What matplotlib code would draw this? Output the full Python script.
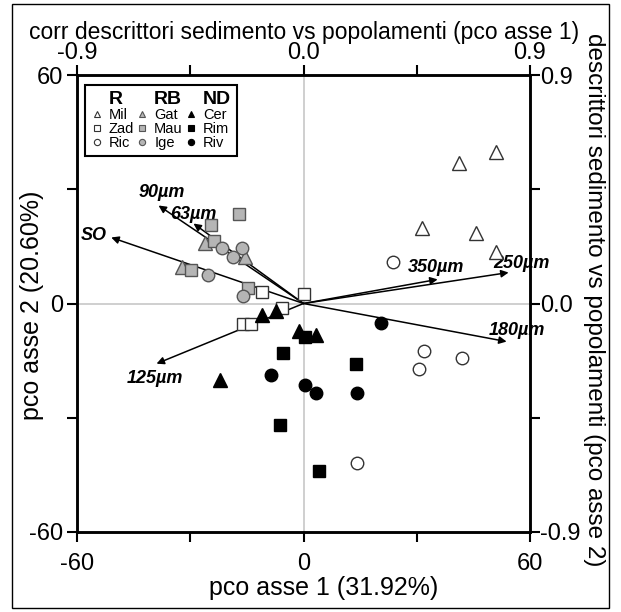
import matplotlib.pyplot as plt
from matplotlib.lines import Line2D
from matplotlib.patches import Rectangle
from matplotlib.ticker import FixedLocator, FormatStrFormatter

plt.rcParams["font.family"] = ["Liberation Sans", "DejaVu Sans"]
plt.rcParams["axes.unicode_minus"] = False

# pco scores (asse 1, asse 2) per site
# R
mil_x = [50.9, 41.1, 31.5, 45.6, 50.9]
mil_y = [39.9, 37.0, 19.7, 18.4, 13.4]
zad_x = [-10.9, 0.0, -5.6, -15.9, -14.0]
zad_y = [2.9, 2.4, -1.3, -5.5, -5.5]
ric_x = [23.6, 31.8, 42.1, 30.7, 14.3]
ric_y = [11.0, -12.6, -14.2, -17.1, -42.0]
# RB
gat_x = [-26.0, -15.6, -32.1]
gat_y = [15.8, 12.3, 9.5]
mau_x = [-17.0, -24.6, -23.8, -29.9, -14.6]
mau_y = [23.4, 20.5, 16.3, 8.7, 4.2]
ige_x = [-21.7, -16.2, -18.8, -25.2, -15.9]
ige_y = [14.7, 14.7, 12.3, 7.4, 2.1]
# ND
cer_x = [-11.1, -7.4, -1.3, 3.4, -22.0]
cer_y = [-2.9, -2.1, -7.1, -8.4, -20.0]
rim_x = [0.3, -5.3, 14.0, -6.1, 4.0]
rim_y = [-8.7, -12.9, -16.0, -32.0, -43.9]
riv_x = [20.4, -8.5, 0.5, 3.2, 14.3]
riv_y = [-5.0, -18.9, -21.5, -23.6, -23.4]

# correlations of sediment descriptors with pco axes
vec_names = ["90µm", "63µm", "SO", "125µm", "350µm", "250µm", "180µm"]
vec_x = [-0.576, -0.437, -0.764, -0.584, 0.533, 0.815, 0.807]
vec_y = [0.386, 0.315, 0.260, -0.237, 0.095, 0.122, -0.150]
# label offsets from arrow tip (pixels) and alignment
vec_off = [(-20, 13), (-23, 9), (-4, 2), (-2, -15), (-30, 12), (-15, 9), (-18, 11)]
vec_ha = ["left", "left", "right", "center", "left", "left", "left"]

W, H = 621, 612
fig = plt.figure(figsize=(W / 100, H / 100), dpi=100)
pos = [77 / W, 1 - 532 / H, (530 - 77) / W, (532 - 75) / H]

# correlation axes (top / right), drawn underneath
axc = fig.add_axes(pos)
axc.set_xlim(-0.9, 0.9)
axc.set_ylim(-0.9, 0.9)
axc.axhline(0, color="#cccccc", lw=1.3, zorder=0)
axc.axvline(0, color="#cccccc", lw=1.3, zorder=0)
axc.xaxis.tick_top()
axc.yaxis.tick_right()
axc.xaxis.set_major_locator(FixedLocator([-0.9, 0.0, 0.9]))
axc.yaxis.set_major_locator(FixedLocator([-0.9, 0.0, 0.9]))
axc.xaxis.set_minor_locator(FixedLocator([-0.45, 0.45]))
axc.yaxis.set_minor_locator(FixedLocator([-0.45, 0.45]))
axc.xaxis.set_major_formatter(FormatStrFormatter("%.1f"))
axc.yaxis.set_major_formatter(FormatStrFormatter("%.1f"))
axc.tick_params(which="both", direction="out", length=7, width=1.5, labelsize=17)
axc.tick_params(axis="x", pad=1)
axc.tick_params(axis="y", pad=0)
for sp in axc.spines.values():
    sp.set_linewidth(1.8)

for name, cx, cy, off, ha in zip(vec_names, vec_x, vec_y, vec_off, vec_ha):
    axc.annotate("", xy=(cx, cy), xytext=(0, 0),
                 arrowprops=dict(arrowstyle="-|>", lw=1.1, color="black",
                                 mutation_scale=11, shrinkA=0, shrinkB=0))
    axc.annotate(name, xy=(cx, cy), xytext=off, textcoords="offset pixels",
                 ha=ha, va="center", fontsize=13, fontweight="bold",
                 fontstyle="italic")

# score axes on top
ax = fig.add_axes(pos)
ax.patch.set_alpha(0)
ax.set_xlim(-60, 60)
ax.set_ylim(-60, 60)
ax.xaxis.set_major_locator(FixedLocator([-60, 0, 60]))
ax.yaxis.set_major_locator(FixedLocator([-60, 0, 60]))
ax.xaxis.set_minor_locator(FixedLocator([-30, 30]))
ax.yaxis.set_minor_locator(FixedLocator([-30, 30]))
ax.tick_params(which="both", direction="out", length=7, width=1.5, labelsize=17)
ax.tick_params(axis="x", pad=8)
ax.tick_params(axis="y", pad=3)
for sp in ax.spines.values():
    sp.set_linewidth(1.8)

white = dict(mfc="white", mec="#333333")
grey = dict(mfc="#b5b5b5", mec="#555555")
black = dict(mfc="black", mec="black")
groups = [
    (mil_x, mil_y, "^", white, "Mil"),
    (zad_x, zad_y, "s", white, "Zad"),
    (ric_x, ric_y, "o", white, "Ric"),
    (gat_x, gat_y, "^", grey, "Gat"),
    (mau_x, mau_y, "s", grey, "Mau"),
    (ige_x, ige_y, "o", grey, "Ige"),
    (cer_x, cer_y, "^", black, "Cer"),
    (rim_x, rim_y, "s", black, "Rim"),
    (riv_x, riv_y, "o", black, "Riv"),
]
handles, labels = [], []
for i, (gx, gy, mk, st, lab) in enumerate(groups):
    if i % 3 == 0:
        handles.append(Line2D([], [], ls="none", marker=None))
        labels.append(["R", "RB", "ND"][i // 3])
    ms = 10 if mk == "^" else 9
    ax.plot(gx, gy, ls="none", marker=mk, ms=ms, mew=1, **st)
    handles.append(Line2D([], [], ls="none", marker=mk, ms=4.5, mew=0.8, **st))
    labels.append(lab)

leg = ax.legend(handles, labels, ncol=3, loc="upper left",
                bbox_to_anchor=(8 / 453, 1 - 10 / 457), fontsize=10.5,
                frameon=True, fancybox=False, framealpha=1, edgecolor="black",
                handlelength=0.8, handletextpad=0.4, labelspacing=0.0,
                columnspacing=0.2, borderpad=0.4, borderaxespad=0)
leg.get_frame().set_linewidth(1.5)
for t in leg.get_texts():
    if t.get_text() in ("R", "RB", "ND"):
        t.set_fontweight("bold")
        t.set_fontsize(14)

fig.text(304 / W, 1 - 32 / H, "corr descrittori sedimento vs popolamenti (pco asse 1)",
         ha="center", va="center", fontsize=16.5)
fig.text(324 / W, 1 - 588 / H, "pco asse 1 (31.92%)", ha="center", va="center", fontsize=18)
fig.text(32 / W, 1 - 305 / H, "pco asse 2 (20.60%)", ha="center", va="center",
         rotation=90, fontsize=18)
fig.text(594 / W, 1 - 300 / H, "descrittori sedimento vs popolamenti (pco asse 2)",
         ha="center", va="center", rotation=270, fontsize=17.5)

fig.add_artist(Rectangle((12 / W, 1 - 608 / H), (609 - 12) / W, (608 - 4) / H,
                         transform=fig.transFigure, fill=False, lw=1, ec="black"))

fig.savefig("out.png", dpi=100)
